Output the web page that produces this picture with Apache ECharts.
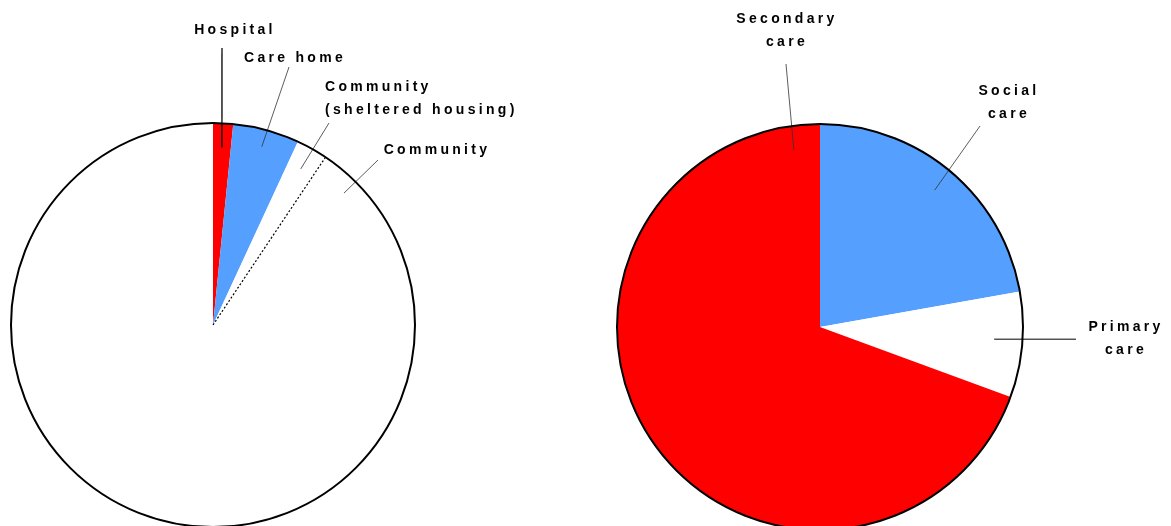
<!DOCTYPE html>
<html><head><meta charset="utf-8">
<script src="https://cdn.jsdelivr.net/npm/echarts@6/dist/echarts.min.js"></script>
<style>html,body{margin:0;padding:0;background:#fff}#c{width:1171px;height:526px}</style>
</head><body><div id="c"></div>
<script>
// letter spacing for the wide-tracked labels
(function(){
  var P = CanvasRenderingContext2D.prototype, f = P.fillText;
  P.fillText = function(){ if ('letterSpacing' in this) this.letterSpacing = '3.3px'; return f.apply(this, arguments); };
})();

// ---- data ----
const leftCategories = ['Hospital', 'Care home', 'Community (sheltered housing)', 'Community'];
const leftValues = [1.6, 5.3, 2.5, 90.6];
const rightCategories = ['Social care', 'Primary care', 'Secondary care'];
const rightValues = [22.2, 8.4, 69.4];

// ---- style / layout ----
const leftColors = ['#FF0000', '#559FFF', '#FFFFFF', '#FFFFFF'];
const rightColors = ['#559FFF', '#FFFFFF', '#FF0000'];
const leftText = ['Hospital', 'Care home', 'Community\n(sheltered housing)', 'Community'];
const rightText = ['Social\ncare', 'Primary\ncare', 'Secondary\ncare'];
const L = {cx: 213, cy: 325, r: 202};
const R = {cx: 820, cy: 327, r: 203};
const leftLabelCfg = [
  {x: 235, y: 30, align: 'center', end: [222, 48], rr: 0.88, lw: 1.3, lc: '#000'},
  {x: 295, y: 58, align: 'center', end: [289, 67], rr: 0.915, lw: 0.8, lc: '#333'},
  {x: 325, y: 98.5, align: 'left', end: [329, 123], rr: 0.886, lw: 0.8, lc: '#333'},
  {x: 437, y: 150, align: 'center', end: [378, 160], rr: 0.92, ang: 44.8, lw: 0.8, lc: '#333'}
];
const rightLabelCfg = [
  {x: 1009, y: 102.5, align: 'center', end: [980, 126], rr: 0.88, lw: 0.8, lc: '#333'},
  {x: 1126, y: 338.5, align: 'center', end: [1076, null], rr: 0.86, ang: 94, lw: 1, lc: '#000'},
  {x: 787, y: 31, align: 'center', end: [786, 64], rr: 0.88, ang: 351.6, lw: 0.8, lc: '#333'}
];

function anchors(values, geo, cfg) {
  const total = values.reduce((a, b) => a + b, 0);
  let acc = 0;
  return values.map((v, i) => {
    const a0 = acc / total * 360; acc += v; const a1 = acc / total * 360;
    const a = (cfg[i].ang != null ? cfg[i].ang : (a0 + a1) / 2) * Math.PI / 180;
    const rr = geo.r * cfg[i].rr;
    return [geo.cx + rr * Math.sin(a), geo.cy - rr * Math.cos(a)];
  });
}
const leftAnchors = anchors(leftValues, L, leftLabelCfg);
const rightAnchors = anchors(rightValues, R, rightLabelCfg);

const textStyle = {
  fontFamily: 'Liberation Sans, Arial, sans-serif', fontWeight: 'bold', fontSize: 14,
  color: '#000', lineHeight: 23
};

function slicePie(cats, vals, colors, geo) {
  return {
    type: 'pie', z: 2, silent: true, animation: false,
    center: [geo.cx, geo.cy], radius: geo.r, startAngle: 90, clockwise: true,
    emphasis: {disabled: true},
    label: {show: false}, labelLine: {show: false},
    itemStyle: {borderWidth: 0},
    data: cats.map((n, i) => ({name: n, value: vals[i], itemStyle: {color: colors[i]}}))
  };
}
function labelPie(cats, vals, texts, geo, cfg, anc) {
  return {
    type: 'pie', z: 4, silent: true, animation: false,
    center: [geo.cx, geo.cy], radius: geo.r, startAngle: 90, clockwise: true,
    avoidLabelOverlap: false,
    emphasis: {disabled: true},
    itemStyle: {color: 'rgba(0,0,0,0)', borderWidth: 0},
    label: Object.assign({show: true, position: 'outside',
      formatter: p => texts[p.dataIndex]}, textStyle),
    labelLine: {show: true, smooth: false, lineStyle: {color: '#000', width: 1}},
    labelLayout: function (p) {
      const c = cfg[p.dataIndex], a = anc[p.dataIndex];
      const e = [c.end[0], c.end[1] == null ? a[1] : c.end[1]];
      return {x: c.x, y: c.y, align: c.align, verticalAlign: 'middle',
        labelLinePoints: [a, e, e]};
    },
    data: cats.map((n, i) => ({
      name: n, value: vals[i],
      labelLine: {lineStyle: {color: cfg[i].lc, width: cfg[i].lw}}
    }))
  };
}
function outline(geo) {
  return {
    type: 'pie', z: 5, silent: true, animation: false,
    center: [geo.cx, geo.cy], radius: geo.r,
    label: {show: false}, labelLine: {show: false}, emphasis: {disabled: true},
    itemStyle: {color: 'rgba(0,0,0,0)', borderColor: '#000', borderWidth: 2},
    data: [{value: 1, name: 'outline'}]
  };
}

const leftTotal = leftValues.reduce((a, b) => a + b, 0);
const dividerAngle = (leftValues[0] + leftValues[1] + leftValues[2]) / leftTotal * 100;

const chart = echarts.init(document.getElementById('c'), null, {renderer: 'canvas'});
chart.setOption({
  animation: false,
  backgroundColor: '#fff',
  polar: {center: [L.cx, L.cy], radius: L.r},
  angleAxis: {type: 'value', min: 0, max: 100, startAngle: 90, clockwise: true,
    axisLine: {show: false}, axisTick: {show: false}, axisLabel: {show: false}, splitLine: {show: false}},
  radiusAxis: {type: 'value', min: 0, max: 1,
    axisLine: {show: false}, axisTick: {show: false}, axisLabel: {show: false}, splitLine: {show: false}},
  series: [
    slicePie(leftCategories, leftValues, leftColors, L),
    slicePie(rightCategories, rightValues, rightColors, R),
    {type: 'line', coordinateSystem: 'polar', z: 3, silent: true, symbol: 'none',
      lineStyle: {color: '#000', width: 1.2, type: [2, 2]},
      data: [[0, dividerAngle], [1, dividerAngle]]},
    labelPie(leftCategories, leftValues, leftText, L, leftLabelCfg, leftAnchors),
    labelPie(rightCategories, rightValues, rightText, R, rightLabelCfg, rightAnchors),
    outline(L),
    outline(R)
  ]
});
</script>
</body></html>
